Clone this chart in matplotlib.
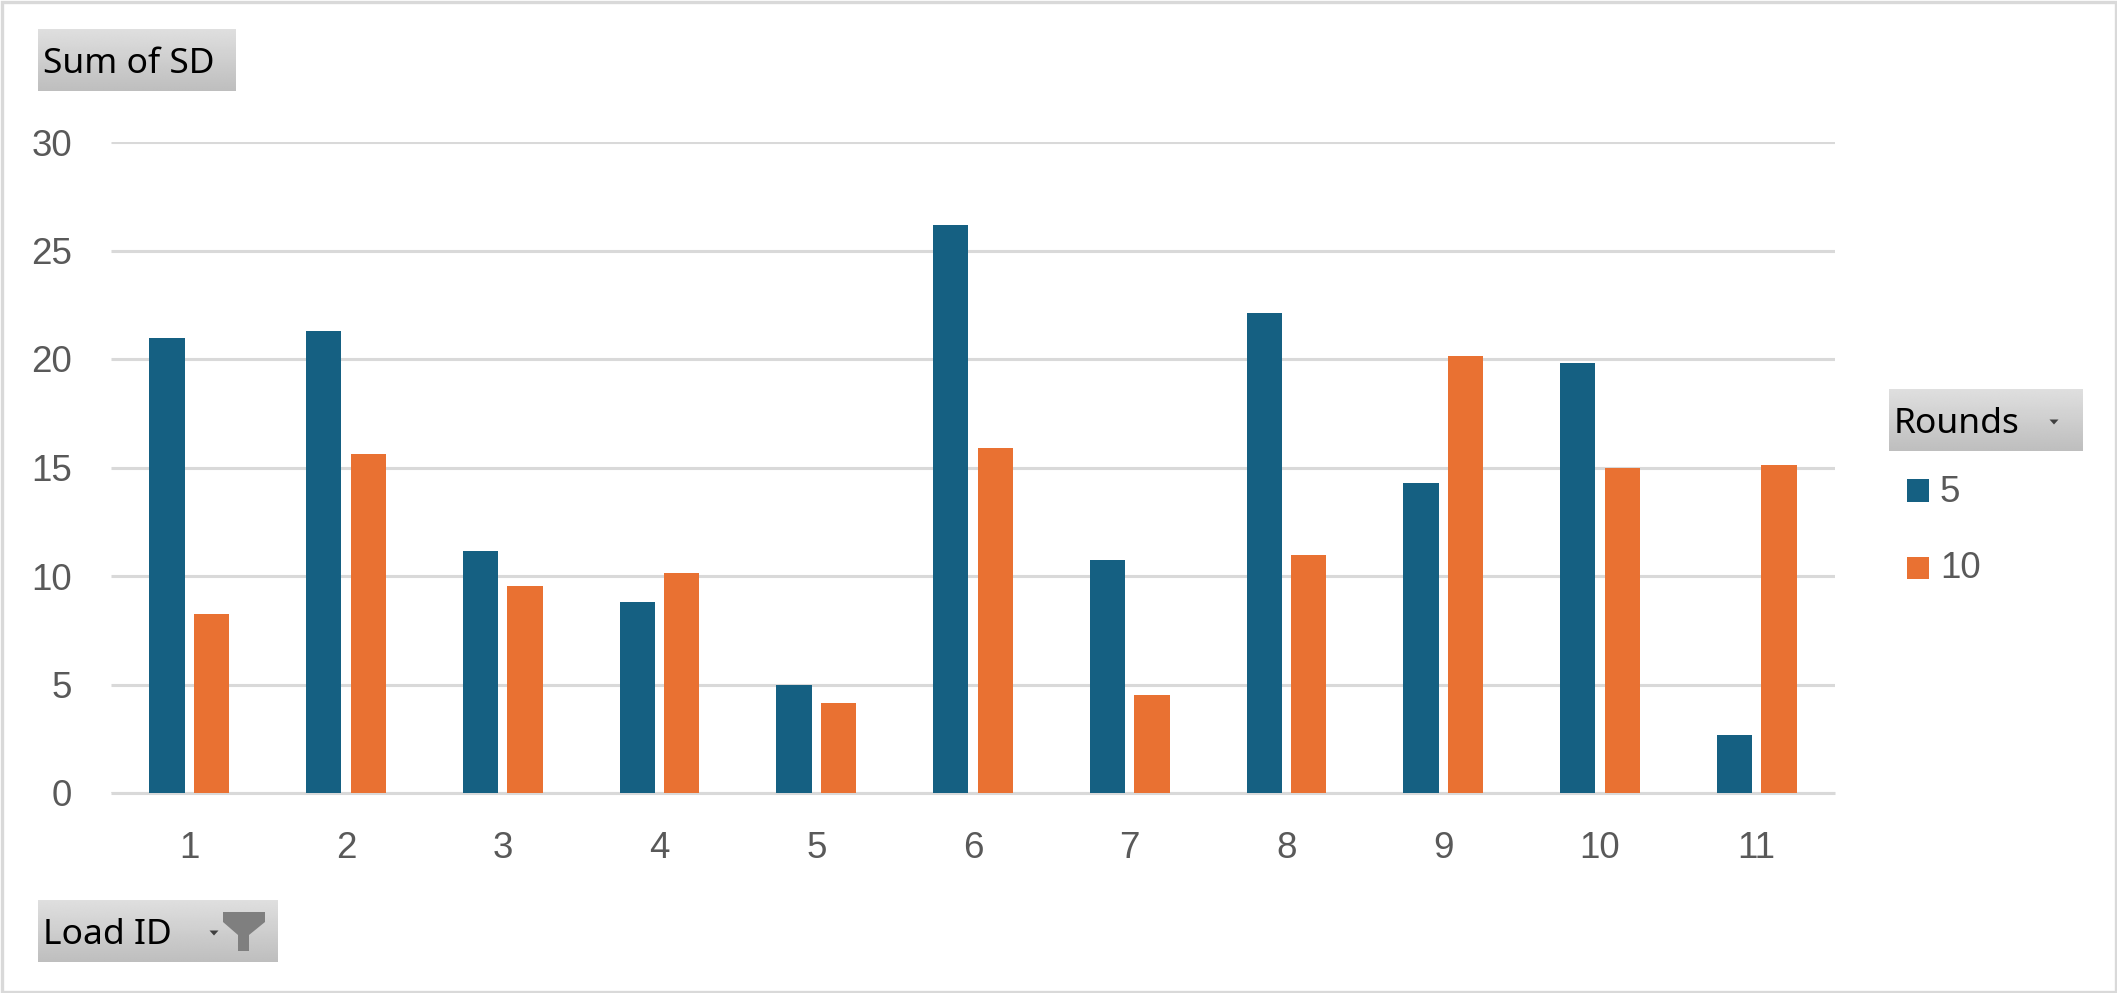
import numpy as np
import matplotlib
matplotlib.use("Agg")
import matplotlib.pyplot as plt
from matplotlib.patches import Polygon, Rectangle

W, H = 2117, 993
load_ids = ["1", "2", "3", "4", "5", "6", "7", "8", "9", "10", "11"]
rounds_5 = [20.98, 21.27, 11.15, 8.8, 4.98, 26.18, 10.75, 22.1, 14.28, 19.8, 2.65]
rounds_10 = [8.25, 15.6, 9.55, 10.15, 4.15, 15.9, 4.5, 10.95, 20.12, 15.0, 15.12]
series_names = ["5", "10"]
y_ticks = [0, 5, 10, 15, 20, 25, 30]
value_button = "Sum of SD"
legend_button = "Rounds"
axis_button = "Load ID"

BLUE, ORANGE = "#156082", "#E97132"
GREY = "#595959"
GRID = "#D9D9D9"

fig = plt.figure(figsize=(W / 100, H / 100), dpi=100, facecolor="white")

def px_rect(x0, y0, x1, y1):
    return [x0 / W, 1 - y1 / H, (x1 - x0) / W, (y1 - y0) / H]

# chart
ax = fig.add_axes(px_rect(111, 142, 1835, 793))
x = np.arange(len(load_ids))
w = 0.225
off = 0.142
ax.bar(x - off, rounds_5, w, color=BLUE, zorder=3)
ax.bar(x + off, rounds_10, w, color=ORANGE, zorder=3)
ax.set_xlim(-0.5, len(load_ids) - 0.5)
ax.set_ylim(0, 30)
ax.set_yticks(y_ticks)
ax.set_xticks(x, load_ids)
ax.grid(axis="y", color=GRID, lw=2.2, zorder=0, solid_capstyle="butt")
ax.set_axisbelow(True)
for s in ["top", "left", "right"]:
    ax.spines[s].set_visible(False)
ax.spines["bottom"].set_color(GRID)
ax.spines["bottom"].set_linewidth(2.2)
ax.spines["bottom"].set_capstyle("butt")
ax.tick_params(length=0, labelcolor=GREY, labelsize=26.5, labelfontfamily="Liberation Sans")
ax.tick_params(axis="x", pad=27)
ax.tick_params(axis="y", pad=28)

# overlay in pixel coordinates
ov = fig.add_axes([0, 0, 1, 1], zorder=5)
ov.set_xlim(0, W)
ov.set_ylim(H, 0)
ov.axis("off")
ov.patch.set_alpha(0)

grad = np.linspace(0.875, 0.745, 64).reshape(-1, 1)

def button(x0, y0, x1, y1, label, arrow_x=None):
    ov.imshow(grad, extent=(x0, x1, y1, y0), cmap="gray", vmin=0, vmax=1,
              aspect="auto", zorder=1, interpolation="bilinear")
    ov.text(x0 + 5, (y0 + y1) / 2 + 4, label, fontsize=25.5, family="Noto Sans",
            color="black", va="center", ha="left", zorder=2)
    if arrow_x is not None:
        ay = (y0 + y1) / 2 + 1.5
        ov.add_patch(Polygon([[arrow_x - 4.5, ay - 2], [arrow_x + 4.5, ay - 2], [arrow_x, ay + 3]],
                             closed=True, fc="#404040", ec="none", zorder=2))

button(38, 29, 236, 91, value_button)
button(1889, 389, 2083, 451, legend_button, arrow_x=2054)
button(38, 900, 278, 962, axis_button, arrow_x=214)

# funnel icon
ov.add_patch(Polygon([[223, 912], [265, 912], [265, 922], [249, 935], [249, 951], [238, 951],
                      [238, 935], [223, 922]],
                     closed=True, fc="#7F7F7F", ec="none", zorder=3))

# legend
for (y0, y1), col, name, ty in zip([(479, 502), (557, 579)], [BLUE, ORANGE], series_names, [490, 567]):
    ov.add_patch(Rectangle((1907, y0), 22, y1 - y0, fc=col, ec="none", zorder=2))
    ov.text(1940, ty + 2, name, fontsize=26.5, family="Liberation Sans", color=GREY,
            va="center", ha="left", zorder=2)

# outer border
ov.add_patch(Rectangle((1.5, 1.5), W - 3, H - 3, fc="none", ec="#D9D9D9", lw=2.4, zorder=4))
ov.set_xlim(0, W)
ov.set_ylim(H, 0)

fig.savefig("out.png", dpi=100, facecolor="white")
